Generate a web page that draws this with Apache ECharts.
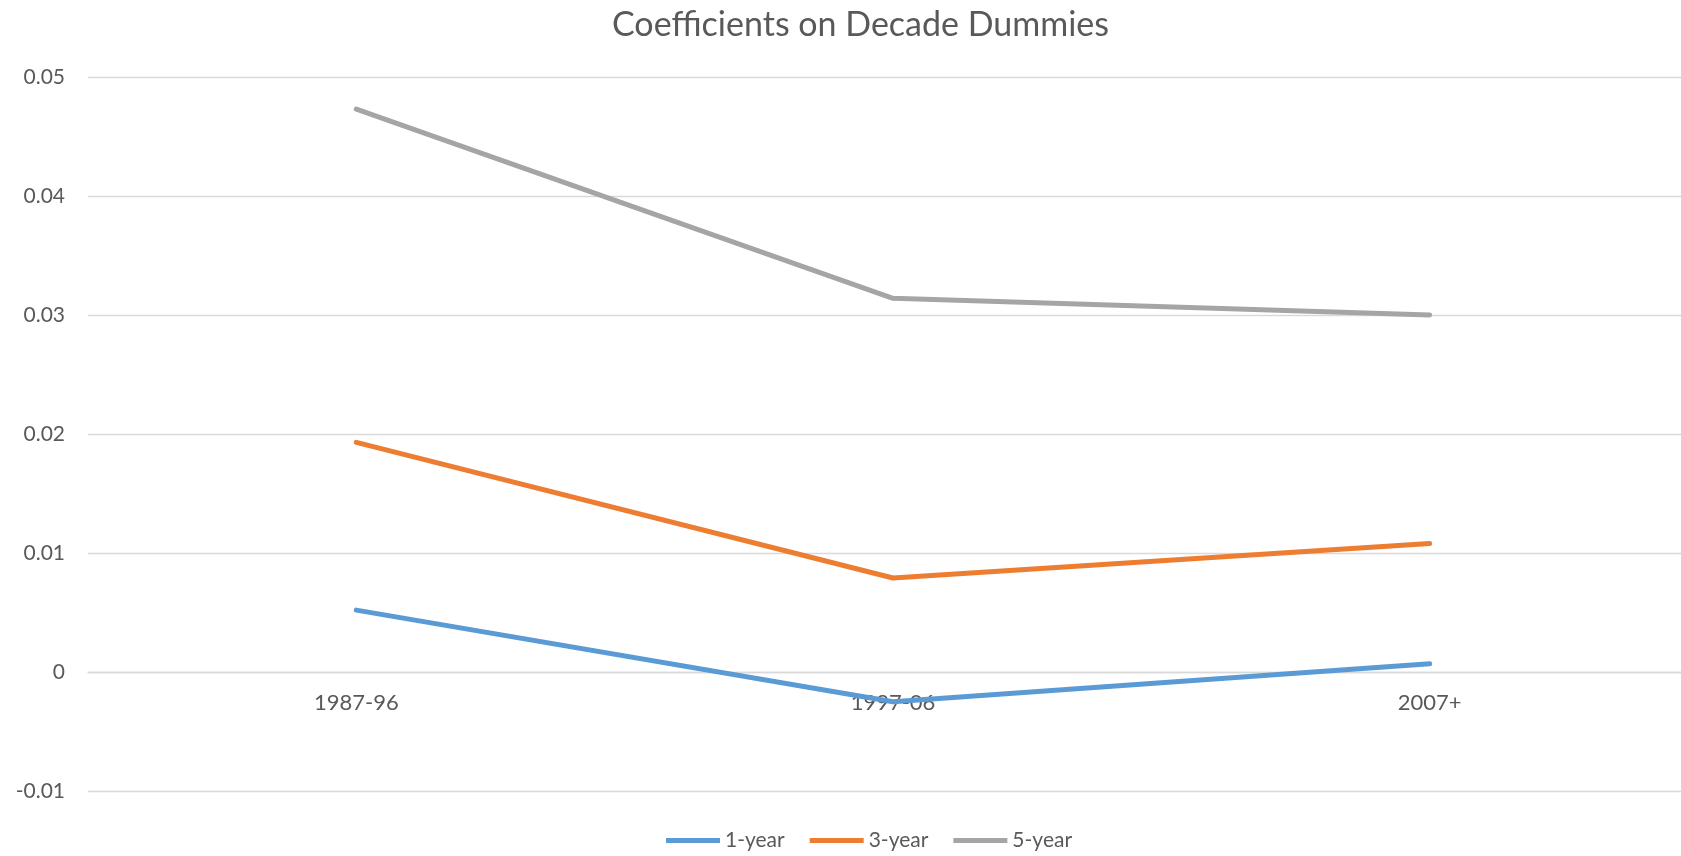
<!DOCTYPE html>
<html>
<head>
<meta charset="utf-8">
<script src="https://cdn.jsdelivr.net/npm/echarts@6/dist/echarts.min.js"></script>
<style>
  html, body { margin: 0; padding: 0; background: #fff; overflow: hidden; }
  /* a bit wider than the window: the plot area runs past the right edge, as in the original */
  #chart { width: 1698px; height: 856px; }
</style>
</head>
<body>
<div id="chart"></div>
<script>
var categories = ['1987-96', '1997-06', '2007+'];
var oneYear = [0.0052, -0.0025, 0.0007];
var threeYear = [0.0193, 0.0079, 0.0108];
var fiveYear = [0.0473, 0.0314, 0.0300];

var myChart = echarts.init(document.getElementById('chart'));
var font = 'Lato, "Open Sans", sans-serif';

var option = {
  animation: false,
  title: {
    text: 'Coefficients on Decade Dummies',
    left: 607,
    top: 3,
    textStyle: { color: '#595959', fontFamily: font, fontWeight: 'normal', fontSize: 34 }
  },
  legend: {
    bottom: 0,
    left: 661,
    icon: 'rect',
    itemWidth: 54,
    itemHeight: 5,
    itemGap: 25,
    textStyle: { color: '#595959', fontFamily: font, fontSize: 21 },
    data: ['1-year', '3-year', '5-year']
  },
  grid: { left: 88, right: 0, top: 77, bottom: 65 },
  xAxis: {
    type: 'category',
    data: categories,
    offset: -119, // axis sits on the zero line
    axisLine: { onZero: false, lineStyle: { color: '#d9d9d9', width: 1.3 } },
    axisTick: { show: false },
    axisLabel: { color: '#595959', fontFamily: font, fontSize: 22, margin: 20 }
  },
  yAxis: {
    type: 'value',
    min: -0.01,
    max: 0.05,
    interval: 0.01,
    axisLine: { show: false },
    axisTick: { show: false },
    splitLine: { lineStyle: { color: '#d9d9d9', width: 1.3 } },
    axisLabel: {
      color: '#595959', fontFamily: font, fontSize: 21, margin: 23,
      formatter: function (v) { return String(+v.toFixed(2)); }
    }
  },
  series: [
    { name: '1-year', type: 'line', data: oneYear, symbol: 'none',
      itemStyle: { color: '#5b9bd5' }, lineStyle: { width: 5, cap: 'round', join: 'round' } },
    { name: '3-year', type: 'line', data: threeYear, symbol: 'none',
      itemStyle: { color: '#ed7d31' }, lineStyle: { width: 5, cap: 'round', join: 'round' } },
    { name: '5-year', type: 'line', data: fiveYear, symbol: 'none',
      itemStyle: { color: '#a5a5a5' }, lineStyle: { width: 5, cap: 'round', join: 'round' } }
  ]
};

myChart.setOption(option);
</script>
</body>
</html>
